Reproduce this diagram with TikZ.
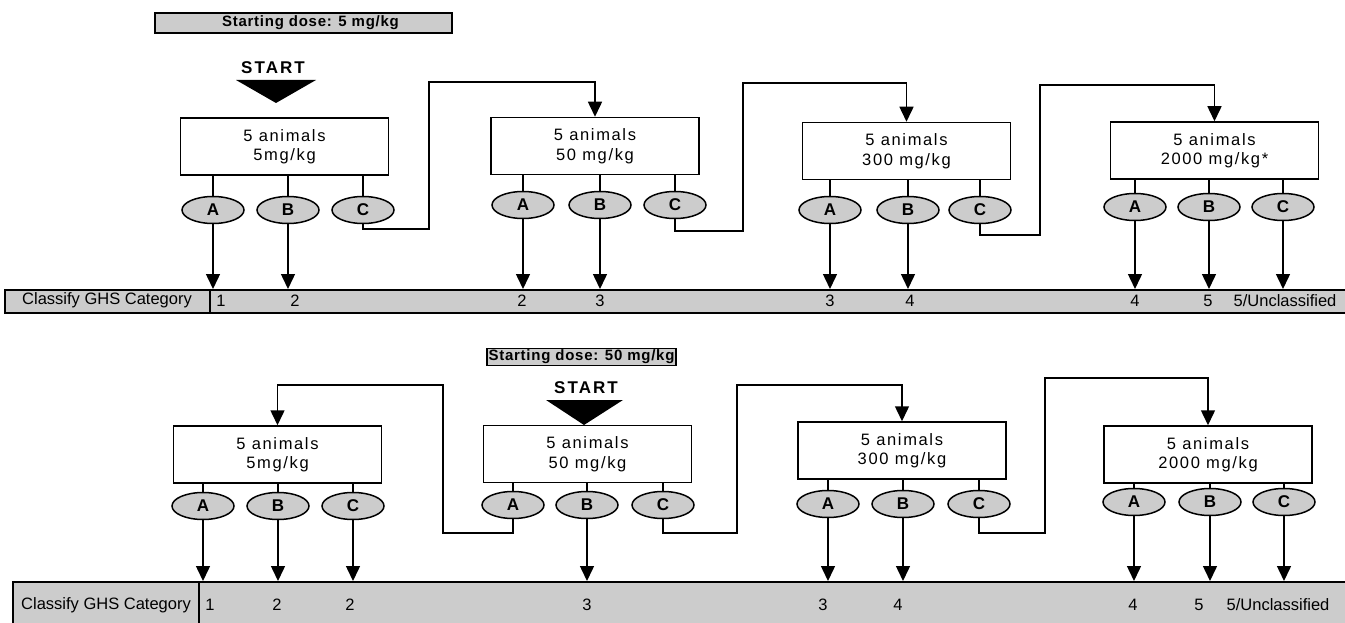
\documentclass[tikz,border=0pt]{standalone}
\usepackage{fontspec}
\setmainfont{Liberation Sans}
\newfontfamily\boxfont[LetterSpace=10]{Liberation Sans}
\newfontfamily\headfont[LetterSpace=5]{Liberation Sans}
\newfontfamily\startfont[LetterSpace=12]{Liberation Sans}
\usetikzlibrary{shapes.geometric,arrows.meta}

\tikzset{
  dosebox/.style={draw, line width=1.5pt, minimum width=208pt, minimum height=57pt,
    inner sep=0pt, align=center, font=\boxfont\fontsize{16.5}{19.5}\selectfont},
  outcome/.style={ellipse, draw, line width=1.5pt, fill=black!20, minimum width=62pt,
    minimum height=27pt, inner sep=0pt, font=\bfseries\fontsize{17}{17}\selectfont},
  link/.style={line width=1.5pt},
  arr/.style={line width=1.5pt, -{Triangle[width=14pt,length=15pt]}},
  catbar/.style={draw, line width=1.6pt, fill=black!20, inner sep=0pt},
  cat/.style={font=\fontsize{16.5}{17}\selectfont, inner sep=0pt},
  startlabel/.style={font=\startfont\bfseries\fontsize{17}{17}\selectfont, inner sep=0pt},
  dosehead/.style={draw, line width=1.4pt, fill=black!20,
    font=\headfont\bfseries\fontsize{15}{15}\selectfont, inner sep=1.5pt},
}

\begin{document}
\begin{tikzpicture}[x=1pt, y=-1pt]
\useasboundingbox (0,0) rectangle (1345,623);

% ---------- upper scheme: starting dose 5 mg/kg ----------
\node[dosehead, minimum width=297pt, minimum height=20pt] (sd1) at (303.5,23)
  {\hspace*{14pt}Starting dose: 5 mg/kg};
\node[startlabel] (st1) at (273,68) {START};
\fill (236,80) -- (316,80) -- (276,103) -- cycle;

\node[dosebox] (b1) at (284.5,146.5) {5 animals\\5mg/kg};
\node[dosebox] (b2) at (595,146)     {5 animals\\50 mg/kg};
\node[dosebox] (b3) at (906.5,151)   {5 animals\\300 mg/kg};
\node[dosebox] (b4) at (1214.5,150.5){5 animals\\2000 mg/kg*};

\node[outcome] (t1a) at (213,210) {A};
\node[outcome] (t1b) at (288,210) {B};
\node[outcome] (t1c) at (363,210) {C};
\node[outcome] (t2a) at (523,205) {A};
\node[outcome] (t2b) at (600,205) {B};
\node[outcome] (t2c) at (675,205) {C};
\node[outcome] (t3a) at (830,210) {A};
\node[outcome] (t3b) at (908,210) {B};
\node[outcome] (t3c) at (980,210) {C};
\node[outcome] (t4a) at (1135,207) {A};
\node[outcome] (t4b) at (1209,207) {B};
\node[outcome] (t4c) at (1283,207) {C};

\foreach \b/\o in {b1/t1a,b1/t1b,b1/t1c,b2/t2a,b2/t2b,b2/t2c,
                   b3/t3a,b3/t3b,b3/t3c,b4/t4a,b4/t4b,b4/t4c}
  \draw[link] (\o |- \b.south) -- (\o);

\node[catbar, anchor=north west, minimum width=1346pt, minimum height=23pt] (bar1) at (4,289) {};
\draw[line width=1.6pt] (210,289) -- (210,312);
\node[cat] (k0) at (107,300.5) {Classify GHS Category};
\node[cat] (k1) at (221,300.5) {1};
\node[cat] (k2) at (295,300.5) {2};
\node[cat] (k3) at (522,300.5) {2};
\node[cat] (k4) at (600,300.5) {3};
\node[cat] (k5) at (830,300.5) {3};
\node[cat] (k6) at (910,300.5) {4};
\node[cat] (k7) at (1135,300.5) {4};
\node[cat] (k8) at (1208,300.5) {5};
\node[cat] (k9) at (1285,300.5) {5/Unclassified};

\foreach \o in {t1a,t1b,t2a,t2b,t3a,t3b,t4a,t4b,t4c}
  \draw[arr] (\o) -- (\o |- bar1.north);

% escalation after outcome C
\coordinate (p1) at (429,229);  \coordinate (q1) at (429,82);
\coordinate (p2) at (743,231);  \coordinate (q2) at (743,83);
\coordinate (p3) at (1040,235); \coordinate (q3) at (1040,85);
\draw[arr] (t1c) |- (p1) -- (q1) -| (b2);
\draw[arr] (t2c) |- (p2) -- (q2) -| (b3);
\draw[arr] (t3c) |- (p3) -- (q3) -| (b4);

% ---------- lower scheme: starting dose 50 mg/kg ----------
\node[dosehead] (sd2) at (581.5,357) {Starting dose: 50 mg/kg};
\node[startlabel] (st2) at (586,388) {START};
\fill (546,400) -- (623,400) -- (584,425) -- cycle;

\node[dosebox] (c1) at (277.5,454.5) {5 animals\\5mg/kg};
\node[dosebox] (c2) at (587.5,454)   {5 animals\\50 mg/kg};
\node[dosebox] (c3) at (902,450.5)   {5 animals\\300 mg/kg};
\node[dosebox] (c4) at (1208,454.5)  {5 animals\\2000 mg/kg};

\node[outcome] (u1a) at (203,506) {A};
\node[outcome] (u1b) at (278,506) {B};
\node[outcome] (u1c) at (353,506) {C};
\node[outcome] (u2a) at (513,505) {A};
\node[outcome] (u2b) at (587,505) {B};
\node[outcome] (u2c) at (663,505) {C};
\node[outcome] (u3a) at (828,504) {A};
\node[outcome] (u3b) at (903,504) {B};
\node[outcome] (u3c) at (979,504) {C};
\node[outcome] (u4a) at (1134,502) {A};
\node[outcome] (u4b) at (1210,502) {B};
\node[outcome] (u4c) at (1284,502) {C};

\foreach \b/\o in {c1/u1a,c1/u1b,c1/u1c,c2/u2a,c2/u2b,c2/u2c,
                   c3/u3a,c3/u3b,c3/u3c,c4/u4a,c4/u4b,c4/u4c}
  \draw[link] (\o |- \b.south) -- (\o);

\node[catbar, anchor=north west, minimum width=1340pt, minimum height=50pt] (bar2) at (12,581) {};
\draw[line width=1.6pt] (199,581) -- (199,630);
\node[cat] (m0) at (106,605) {Classify GHS Category};
\node[cat] (m1) at (210,605) {1};
\node[cat] (m2) at (277,605) {2};
\node[cat] (m3) at (350,605) {2};
\node[cat] (m4) at (587,605) {3};
\node[cat] (m5) at (823,605) {3};
\node[cat] (m6) at (898,605) {4};
\node[cat] (m7) at (1133,605) {4};
\node[cat] (m8) at (1199,605) {5};
\node[cat] (m9) at (1278,605) {5/Unclassified};

\foreach \o in {u1a,u1b,u1c,u2b,u3a,u3b,u4a,u4b,u4c}
  \draw[arr] (\o) -- (\o |- bar2.north);

% de-escalation after outcome A, escalation after outcome C
\coordinate (r1) at (443,533);  \coordinate (s1) at (443,385);
\coordinate (r2) at (737,533);  \coordinate (s2) at (737,385);
\coordinate (r3) at (1045,533); \coordinate (s3) at (1045,378);
\draw[arr] (u2a) |- (r1) -- (s1) -| (c1);
\draw[arr] (u2c) |- (r2) -- (s2) -| (c3);
\draw[arr] (u3c) |- (r3) -- (s3) -| (c4);
\end{tikzpicture}
\end{document}
